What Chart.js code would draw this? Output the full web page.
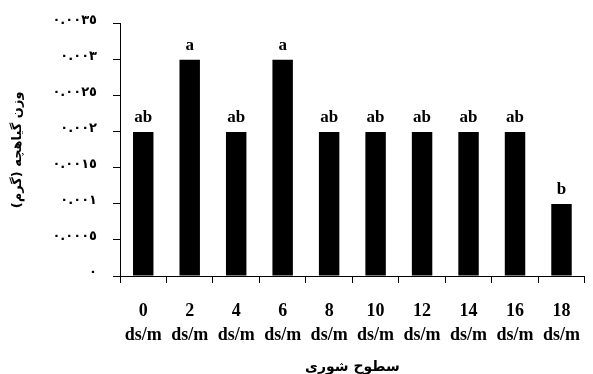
<!DOCTYPE html>
<html>
<head>
<meta charset="utf-8">
<script src="https://cdn.jsdelivr.net/npm/chart.js@4.4.1/dist/chart.umd.min.js"></script>
<style>
  html, body { margin: 0; padding: 0; background: #fff; }
  #wrap { width: 593px; height: 374px; overflow: hidden; position: relative; }
  #chart { display: block; }
</style>
</head>
<body>
<div id="wrap"><canvas id="chart" width="597" height="374"></canvas></div>
<script>
// Salinity levels (ds/m) and mean seedling weight (g)
const salinityLevels = ['0', '2', '4', '6', '8', '10', '12', '14', '16', '18'];
const salinityUnit = 'ds/m';
const seedlingWeight = [0.002, 0.003, 0.002, 0.003, 0.002, 0.002, 0.002, 0.002, 0.002, 0.001];
const groupLetters = ['ab', 'a', 'ab', 'a', 'ab', 'ab', 'ab', 'ab', 'ab', 'b'];

// Y axis ticks and their Eastern Arabic numeral labels
const yTickValues = [0, 0.0005, 0.001, 0.0015, 0.002, 0.0025, 0.003, 0.0035];
const yTickLabels = ['٠', '٠.٠٠٠٥', '٠.٠٠١', '٠.٠٠١٥', '٠.٠٠٢', '٠.٠٠٢٥', '٠.٠٠٣', '٠.٠٠٣٥'];

const xTitle = 'سطوح شوری';
const yTitle = 'وزن گیاهچه (گرم)';

const latinBold = { family: "'Liberation Serif', 'Times New Roman', serif", weight: 'bold' };
const arabicBold = { family: "'DejaVu Sans', sans-serif", weight: 'bold' };

// Writes the significance letter above each bar
const letterPlugin = {
  id: 'groupLetters',
  afterDatasetsDraw(chart) {
    const ctx = chart.ctx;
    const meta = chart.getDatasetMeta(0);
    ctx.save();
    ctx.fillStyle = '#000';
    ctx.font = "bold 17px 'Liberation Serif', 'Times New Roman', serif";
    ctx.textAlign = 'center';
    ctx.textBaseline = 'bottom';
    meta.data.forEach((bar, i) => {
      ctx.fillText(groupLetters[i], bar.x, bar.y - 6);
    });
    ctx.restore();
  }
};

new Chart(document.getElementById('chart'), {
  type: 'bar',
  data: {
    labels: salinityLevels.map(l => [l, salinityUnit]),
    datasets: [{
      data: seedlingWeight,
      backgroundColor: '#000',
      borderWidth: 0,
      barPercentage: 0.44,
      categoryPercentage: 1
    }]
  },
  plugins: [letterPlugin],
  options: {
    responsive: false,
    animation: false,
    devicePixelRatio: 1,
    layout: { padding: { top: 23, right: 0, bottom: 0, left: 0 } },
    plugins: {
      legend: { display: false },
      tooltip: { enabled: false }
    },
    scales: {
      x: {
        offset: true,
        grid: {
          offset: true,
          drawOnChartArea: false,
          drawTicks: true,
          tickLength: 7,
          color: '#000'
        },
        border: { color: '#000', width: 1 },
        ticks: {
          color: '#000',
          font: { ...latinBold, size: 18, lineHeight: 1.3 },
          maxRotation: 0,
          autoSkip: false,
          padding: 17
        },
        title: {
          display: true,
          text: xTitle,
          color: '#000',
          font: { ...arabicBold, size: 14 },
          padding: { top: 0, bottom: -2 }
        },
        afterFit(scale) { scale.height = 98; }
      },
      y: {
        min: 0,
        max: 0.0035,
        afterBuildTicks(scale) {
          scale.ticks = yTickValues.map(v => ({ value: v }));
        },
        grid: {
          drawOnChartArea: false,
          drawTicks: true,
          tickLength: 7,
          color: '#000'
        },
        border: { color: '#000', width: 1 },
        ticks: {
          color: '#000',
          font: { ...arabicBold, size: 13 },
          padding: 16,
          labelOffset: -3,
          callback(value) {
            let best = 0;
            yTickValues.forEach((v, i) => {
              if (Math.abs(v - value) < Math.abs(yTickValues[best] - value)) best = i;
            });
            return yTickLabels[best];
          }
        },
        title: {
          display: true,
          text: yTitle,
          color: '#000',
          font: { ...arabicBold, size: 13 },
          padding: { top: 10, bottom: 0 }
        },
        afterFit(scale) { scale.width = 120; }
      }
    }
  }
});
</script>
</body>
</html>
